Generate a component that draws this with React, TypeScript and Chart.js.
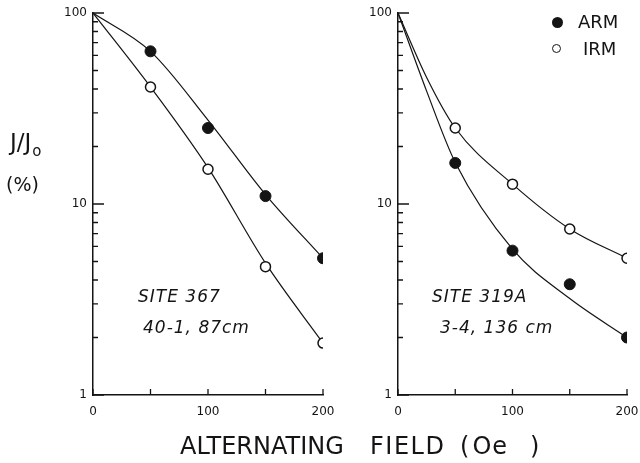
import React, { useEffect, useRef } from "react";
import { Chart, registerables } from "chart.js";

Chart.register(...registerables);

// ---------- data ----------
const measuredField = [50, 100, 150, 200];
const curveField367 = [0, 50, 100, 150, 200];
const curveField319 = [0, 25, 50, 100, 150, 200];

// Site 367, 40-1, 87cm
const site367Arm = [63, 25, 11, 5.2];
const site367Irm = [41, 15.2, 4.7, 1.87];
const site367ArmCurve = [100, 63, 27.5, 11.2, 5.2];
const site367IrmCurve = [100, 41, 15.5, 4.9, 1.87];

// Site 319A, 3-4, 136 cm
const site319Arm = [16.4, 5.7, 3.8, 2.0];
const site319Irm = [25, 12.7, 7.4, 5.2];
const site319ArmCurve = [100, 39, 16.5, 5.8, 3.2, 2.0];
const site319IrmCurve = [100, 46, 25, 12.7, 7.4, 5.2];

// ticks
const xTickLabels = [0, 100, 200];
const xTickMarks = [0, 50, 100, 150, 200];
const yTickLabels = [1, 10, 100];
const yTickMarks = [1, 2, 3, 4, 5, 6, 7, 8, 9, 10, 20, 30, 40, 50, 60, 70, 80, 90, 100];

const INK = "#141414";
const FONT = "'DejaVu Sans', sans-serif";

const toPoints = (xs: number[], ys: number[]) => xs.map((x, i) => ({ x, y: ys[i] }));

const inwardTicks = {
  id: "inwardTicks",
  afterDraw(chart: any) {
    const ctx = chart.ctx;
    const area = chart.chartArea;
    const xs = chart.scales.x;
    const ys = chart.scales.y;
    ctx.save();
    ctx.strokeStyle = INK;
    ctx.lineWidth = 1.3;
    ctx.beginPath();
    yTickMarks.forEach((v) => {
      const py = ys.getPixelForValue(v);
      const len = yTickLabels.indexOf(v) >= 0 ? 11 : 5;
      ctx.moveTo(area.left, py);
      ctx.lineTo(area.left + len, py);
    });
    xTickMarks.forEach((v) => {
      const px = xs.getPixelForValue(v);
      ctx.moveTo(px, area.bottom);
      ctx.lineTo(px, area.bottom - 6);
    });
    ctx.stroke();
    ctx.restore();
  },
};

type PanelProps = {
  left: number;
  width: number;
  yWidth: number;
  padRight: number;
  armPts: number[];
  irmPts: number[];
  curveX: number[];
  armCurve: number[];
  irmCurve: number[];
};

function Panel(p: PanelProps) {
  const ref = useRef<HTMLCanvasElement | null>(null);
  useEffect(() => {
    if (!ref.current) return;
    const curveStyle = {
      showLine: true,
      pointRadius: 0,
      borderColor: INK,
      borderWidth: 1.2,
      cubicInterpolationMode: "monotone" as const,
      fill: false,
    };
    const chart = new Chart(ref.current, {
      type: "scatter",
      data: {
        datasets: [
          {
            label: "ARM",
            data: toPoints(measuredField, p.armPts),
            pointRadius: 5.5,
            pointBackgroundColor: INK,
            pointBorderColor: INK,
            pointBorderWidth: 1,
            showLine: false,
            order: 0,
          },
          {
            label: "IRM",
            data: toPoints(measuredField, p.irmPts),
            pointRadius: 5,
            pointBackgroundColor: "#ffffff",
            pointBorderColor: INK,
            pointBorderWidth: 1.5,
            showLine: false,
            order: 1,
          },
          { label: "ARM fit", data: toPoints(p.curveX, p.armCurve), ...curveStyle, order: 2 },
          { label: "IRM fit", data: toPoints(p.curveX, p.irmCurve), ...curveStyle, order: 3 },
        ],
      },
      options: {
        responsive: false,
        animation: false,
        layout: { padding: { top: 13, right: p.padRight, bottom: 38, left: 0 } },
        plugins: { legend: { display: false }, tooltip: { enabled: false } },
        scales: {
          x: {
            type: "linear",
            min: 0,
            max: 200,
            grid: { display: false, drawTicks: false },
            border: { display: true, color: INK, width: 1.5 },
            ticks: {
              color: INK,
              padding: 10,
              autoSkip: false,
              maxRotation: 0,
              font: { family: FONT, size: 12 },
              callback: (v: any) => String(v),
            },
            afterBuildTicks: (s: any) => {
              s.ticks = xTickLabels.map((v) => ({ value: v }));
            },
            afterFit: (s: any) => {
              s.height = 30;
              s.paddingLeft = 0;
              s.paddingRight = 0;
            },
          },
          y: {
            type: "logarithmic",
            min: 1,
            max: 100,
            grid: { display: false, drawTicks: false },
            border: { display: true, color: INK, width: 1.5 },
            ticks: {
              color: INK,
              padding: 6,
              autoSkip: false,
              font: { family: FONT, size: 12 },
              callback: (v: any) => String(v),
            },
            afterBuildTicks: (s: any) => {
              s.ticks = yTickLabels.map((v) => ({ value: v }));
            },
            afterFit: (s: any) => {
              s.width = p.yWidth;
              s.paddingTop = 0;
              s.paddingBottom = 0;
            },
          },
        },
      },
      plugins: [inwardTicks],
    });
    return () => chart.destroy();
  }, []);
  return (
    <canvas
      ref={ref}
      width={p.width}
      height={463}
      style={{ position: "absolute", left: p.left, top: 0, width: p.width, height: 463 }}
    />
  );
}

const txt = (extra: React.CSSProperties): React.CSSProperties => ({
  position: "absolute",
  fontFamily: FONT,
  color: INK,
  whiteSpace: "nowrap",
  lineHeight: 1,
  ...extra,
});

const noteStyle = { fontSize: 17, fontStyle: "italic" as const, letterSpacing: 1 };

export default function App() {
  return (
    <div
      style={{
        position: "fixed",
        left: 0,
        top: 0,
        width: 640,
        height: 463,
        background: "#ffffff",
        overflow: "hidden",
      }}
    >
      <Panel
        left={0}
        width={345}
        yWidth={93}
        padRight={22}
        armPts={site367Arm}
        irmPts={site367Irm}
        curveX={curveField367}
        armCurve={site367ArmCurve}
        irmCurve={site367IrmCurve}
      />
      <Panel
        left={330}
        width={310}
        yWidth={68}
        padRight={13}
        armPts={site319Arm}
        irmPts={site319Irm}
        curveX={curveField319}
        armCurve={site319ArmCurve}
        irmCurve={site319IrmCurve}
      />

      {/* y axis title */}
      <div style={txt({ left: 10, top: 131, fontSize: 23 })}>
        J/J<span style={{ fontSize: 15, position: "relative", top: 6, marginLeft: 1 }}>o</span>
      </div>
      <div style={txt({ left: 6, top: 175, fontSize: 19 })}>(%)</div>

      {/* x axis title */}
      <div style={txt({ left: 180, top: 434, fontSize: 24 })}>ALTERNATING</div>
      <div style={txt({ left: 370, top: 434, fontSize: 24, letterSpacing: 1.5 })}>FIELD</div>
      <div style={txt({ left: 460, top: 434, fontSize: 24, display: "flex" })}>
        <span>(</span>
        <span style={{ marginLeft: 3, letterSpacing: 1 }}>Oe</span>
        <span style={{ marginLeft: 22 }}>)</span>
      </div>

      {/* legend */}
      <div
        style={{
          position: "absolute",
          left: 552,
          top: 17,
          width: 11,
          height: 11,
          borderRadius: "50%",
          background: INK,
        }}
      />
      <div style={txt({ left: 578, top: 13, fontSize: 18 })}>ARM</div>
      <div
        style={{
          position: "absolute",
          left: 552,
          top: 44,
          width: 7,
          height: 7,
          borderRadius: "50%",
          border: `1.5px solid ${INK}`,
          background: "#ffffff",
        }}
      />
      <div style={txt({ left: 583, top: 40, fontSize: 18 })}>IRM</div>

      {/* sample annotations */}
      <div style={txt({ left: 138, top: 288, ...noteStyle })}>SITE 367</div>
      <div style={txt({ left: 143, top: 319, ...noteStyle })}>40-1, 87cm</div>
      <div style={txt({ left: 432, top: 288, ...noteStyle })}>SITE 319A</div>
      <div style={txt({ left: 440, top: 319, ...noteStyle })}>3-4, 136 cm</div>
    </div>
  );
}
